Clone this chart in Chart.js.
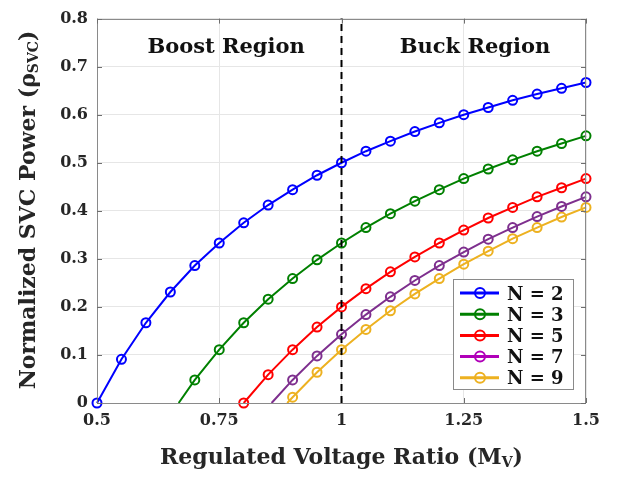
<!DOCTYPE html>
<html><head><meta charset="utf-8">
<script src="https://cdn.jsdelivr.net/npm/chart.js@4/dist/chart.umd.min.js"></script>
<style>html,body{margin:0;padding:0;background:#fff}#wrap{width:620px;height:479px}</style>
</head><body><div id="wrap"><canvas id="c" width="620" height="479"></canvas></div>
<script>
// ---- data ----
const xValues = [0.5,0.55,0.6,0.65,0.7,0.75,0.8,0.85,0.9,0.95,1.0,1.05,1.1,1.15,1.2,1.25,1.3,1.35,1.4,1.45,1.5];
const seriesN2 = [0,0.091,0.167,0.231,0.286,0.333,0.375,0.412,0.444,0.474,0.5,0.524,0.545,0.565,0.583,0.6,0.615,0.63,0.643,0.655,0.667];
const seriesN3 = [null,null,null,null,0.048,0.111,0.167,0.216,0.259,0.298,0.333,0.365,0.394,0.42,0.444,0.467,0.487,0.506,0.524,0.54,0.556];
const seriesN5 = [null,null,null,null,null,null,0,0.059,0.111,0.158,0.2,0.238,0.273,0.304,0.333,0.36,0.385,0.407,0.429,0.448,0.467];
const seriesN7 = [null,null,null,null,null,null,null,null,0.048,0.098,0.143,0.184,0.221,0.255,0.286,0.314,0.341,0.365,0.388,0.409,0.429];
const seriesN9 = [null,null,null,null,null,null,null,null,0.012,0.064,0.111,0.153,0.192,0.227,0.259,0.289,0.316,0.342,0.365,0.387,0.407];
// x where a curve leaves the zero line between two marker positions (no marker drawn there)
const zeroStartX = [null,0.667,null,0.857,0.889];
const seriesLabels = ['N = 2','N = 3','N = 5','N = 7','N = 9'];
const xTicks = [0.5,0.75,1,1.25,1.5];
const yTicks = [0,0.1,0.2,0.3,0.4,0.5,0.6,0.7,0.8];
const dividerX = 1;
const regionLabels = ['Boost Region','Buck Region'];
const regionLabelX = [0.764,1.273];
const regionLabelY = 0.728;

// ---- styles ----
const lineColors = ['#0000FF','#008000','#FF0000','#7E2F8E','#EDB120'];
const legendColors = ['#0000FF','#008000','#FF0000','#B000B8','#EDB120'];
const FONT = "'DejaVu Serif'";
const textColor = '#262626';

const allSeries = [seriesN2,seriesN3,seriesN5,seriesN7,seriesN9];
const datasets = [{
  label: 'divider',
  data: [{x: dividerX, y: yTicks[0]}, {x: dividerX, y: yTicks[yTicks.length-1]}],
  borderColor: '#000', borderWidth: 2, borderDash: [7,5], pointRadius: 0, fill: false, clip: false
}];
allSeries.forEach((s, i) => {
  const pts = [];
  if (zeroStartX[i] !== null) pts.push({x: zeroStartX[i], y: 0, marker: false});
  s.forEach((v, j) => { if (v !== null) pts.push({x: xValues[j], y: v, marker: true}); });
  datasets.push({
    label: seriesLabels[i], data: pts, clip: false,
    borderColor: lineColors[i], borderWidth: 2,
    pointBorderColor: lineColors[i], pointBackgroundColor: 'rgba(0,0,0,0)',
    pointBorderWidth: 2,
    pointRadius: ctx => (ctx.raw && ctx.raw.marker === false) ? 0 : 4.5,
    fill: false, tension: 0
  });
});

const decor = {
  id: 'decor',
  afterDraw(chart) {
    const {ctx, chartArea: a, scales} = chart;
    const xs = scales.x, ys = scales.y;
    ctx.save();
    // box
    ctx.strokeStyle = '#8a8a8a'; ctx.lineWidth = 1;
    ctx.strokeRect(Math.round(a.left)+0.5, Math.round(a.top)+0.5, Math.round(a.right-a.left)-1, Math.round(a.bottom-a.top));
    // inward ticks
    ctx.strokeStyle = '#6e6e6e';
    ctx.beginPath();
    xTicks.forEach(v => { const p = Math.round(xs.getPixelForValue(v))+0.5;
      ctx.moveTo(p, a.bottom); ctx.lineTo(p, a.bottom-5);
      ctx.moveTo(p, a.top); ctx.lineTo(p, a.top+5); });
    yTicks.forEach(v => { const p = Math.round(ys.getPixelForValue(v))+0.5;
      ctx.moveTo(a.left, p); ctx.lineTo(a.left+5, p);
      ctx.moveTo(a.right, p); ctx.lineTo(a.right-5, p); });
    ctx.stroke();
    // region labels
    ctx.fillStyle = '#111'; ctx.font = 'bold 21px ' + FONT;
    ctx.textAlign = 'center'; ctx.textBaseline = 'alphabetic';
    regionLabels.forEach((t, i) => ctx.fillText(t, xs.getPixelForValue(regionLabelX[i]), ys.getPixelForValue(regionLabelY)));
    // legend
    const lw = 120, lh = 110;
    const lx = a.right - 13 - lw, ly = a.bottom - 14 - lh;
    ctx.fillStyle = '#fff'; ctx.fillRect(lx, ly, lw, lh);
    ctx.strokeStyle = '#8a8a8a'; ctx.lineWidth = 1;
    ctx.strokeRect(Math.round(lx)+0.5, Math.round(ly)+0.5, lw, lh);
    ctx.textAlign = 'left'; ctx.font = 'bold 18px ' + FONT;
    seriesLabels.forEach((t, i) => {
      const cy = ly + 14 + i * 21.2;
      ctx.strokeStyle = legendColors[i]; ctx.lineWidth = 3;
      ctx.beginPath(); ctx.moveTo(lx + 7, cy); ctx.lineTo(lx + 46, cy); ctx.stroke();
      ctx.lineWidth = 2; ctx.beginPath(); ctx.arc(lx + 27, cy, 5, 0, Math.PI*2); ctx.stroke();
      ctx.fillStyle = '#111'; ctx.fillText(t, lx + 54, cy + 6.5);
    });
    // x axis title with subscript
    ctx.fillStyle = textColor;
    const big = 'bold 22px ' + FONT, small = 'bold 14px ' + FONT;
    const xParts = [['Regulated Voltage Ratio (M', big, 0], ['V', small, 3], [')', big, 0]];
    const widths = xParts.map(p => { ctx.font = p[1]; return ctx.measureText(p[0]).width; });
    let tw = widths.reduce((s, w) => s + w, 0);
    let cx = (a.left + a.right) / 2 - tw / 2;
    const by = 464;
    xParts.forEach((p, i) => { ctx.font = p[1]; ctx.fillText(p[0], cx, by + p[2]); cx += widths[i]; });
    // y axis title
    const yParts = [['Normalized SVC Power (', big, 0], ['ρ', big, 0], ['SVC', small, 3], [')', big, 0]];
    const yw = yParts.map(p => { ctx.font = p[1]; return ctx.measureText(p[0]).width; });
    tw = yw.reduce((s, w) => s + w, 0);
    ctx.translate(35, 210); ctx.rotate(-Math.PI/2);
    cx = -tw / 2;
    yParts.forEach((p, i) => { ctx.font = p[1]; ctx.fillText(p[0], cx, p[2]); cx += yw[i]; });
    ctx.restore();
  }
};

new Chart(document.getElementById('c'), {
  type: 'line',
  data: { datasets },
  options: {
    responsive: false, animation: false, devicePixelRatio: 1,
    layout: { padding: { top: 12, right: 34, left: 0, bottom: 0 } },
    plugins: { legend: { display: false }, tooltip: { enabled: false } },
    scales: {
      x: {
        type: 'linear', min: xTicks[0], max: xTicks[xTicks.length-1],
        afterBuildTicks: s => { s.ticks = xTicks.map(v => ({value: v})); },
        afterFit: s => { s.height = 76; },
        grid: { color: '#e6e6e6', drawTicks: false },
        border: { display: false },
        ticks: { color: textColor, font: { family: FONT, size: 16, weight: 'bold' }, padding: 8,
                 maxRotation: 0, callback: v => String(v) }
      },
      y: {
        type: 'linear', min: yTicks[0], max: yTicks[yTicks.length-1],
        afterBuildTicks: s => { s.ticks = yTicks.map(v => ({value: v})); },
        afterFit: s => { s.width = 97; },
        grid: { color: '#e6e6e6', drawTicks: false },
        border: { display: false },
        ticks: { color: textColor, font: { family: FONT, size: 16, weight: 'bold' }, padding: 9,
                 callback: v => v === 0 ? '0' : v.toFixed(1) }
      }
    }
  },
  plugins: [decor]
});
</script></body></html>
